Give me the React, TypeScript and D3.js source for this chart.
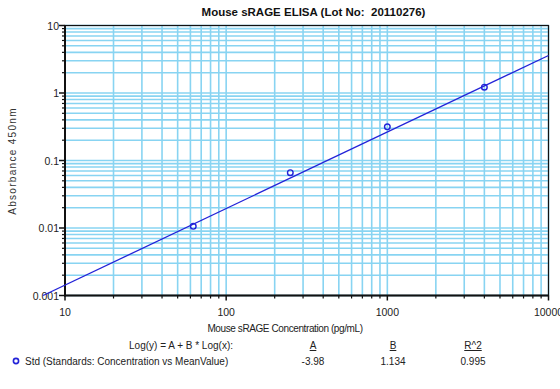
import React from "react";
import * as d3 from "d3";

const titleText = "Mouse sRAGE ELISA (Lot No:  20110276)";
const xTitle = "Mouse sRAGE Concentration (pg/mL)";
const yTitle = "Absorbance 450nm";
const xTickValues = [10, 100, 1000, 10000];
const xTickLabels = ["10", "100", "1000", "10000"];
const yTickValues = [0.001, 0.01, 0.1, 1, 10];
const yTickLabels = ["0.001", "0.01", "0.1", "1", "10"];
const concentrations = [62.5, 250, 1000, 4000];
const meanValues = [0.0106, 0.066, 0.315, 1.22];
const fitA = -3.98;
const fitB = 1.134;
const legendHeaders = ["A", "B", "R^2"];
const legendValues = ["-3.98", "1.134", "0.995"];
const seriesLabel = "Std (Standards: Concentration vs MeanValue)";
const equationLabel = "Log(y) = A + B * Log(x):";

const W = 560;
const H = 389;
const L = 65, R = 548.5, T = 25.5, B = 295.5;
const FONT = "'Liberation Sans', Arial, sans-serif";
const GRID = "#88d4f2";
const BLUE = "#2323d8";

export default function App() {
  const x = d3.scaleLog().domain([10, 10000]).range([L, R]);
  const y = d3.scaleLog().domain([0.001, 10]).range([B, T]);

  const xMinor: number[] = [];
  for (let d = 10; d < 10000; d *= 10) for (let k = 1; k <= 9; k++) xMinor.push(d * k);
  xMinor.push(10000);
  const yMinor: number[] = [];
  for (let d = 0.001; d < 9; d *= 10) for (let k = 1; k <= 9; k++) yMinor.push(d * k);
  yMinor.push(10);

  // fit line endpoints: from where fit reaches y=0.001 to x=10000
  const xStart = Math.pow(10, (Math.log10(0.001) - fitA) / fitB);
  const fitPts: [number, number][] = [xStart, 10000].map((c) => [c, Math.pow(10, fitA + fitB * Math.log10(c))]);
  const line = d3.line<[number, number]>().x((d) => x(d[0])).y((d) => y(d[1]));

  const colX = [313, 393, 473];

  return (
    <svg width={W} height={H} style={{ position: "absolute", left: 0, top: 0, background: "#fff" }} fontFamily={FONT}>
      <rect width={W} height={H} fill="#fff" />
      <text x={313.5} y={16} textAnchor="middle" fontSize={11.5} fontWeight="bold" fill="#111" style={{ whiteSpace: "pre" }}>{titleText}</text>
      {/* grid */}
      {xMinor.map((v, i) => (
        <line key={"gx" + i} x1={x(v)} x2={x(v)} y1={T} y2={B} stroke={GRID} strokeWidth={1.6} />
      ))}
      {yMinor.map((v, i) => (
        <line key={"gy" + i} x1={L} x2={R} y1={y(v)} y2={y(v)} stroke={GRID} strokeWidth={1.6} />
      ))}
      {/* frame */}
      <rect x={L} y={T} width={R - L} height={B - T} fill="none" stroke="#111" strokeWidth={1.2} />
      <line x1={L} x2={L} y1={T - 0.5} y2={B + 1} stroke="#111" strokeWidth={2} />
      <line x1={L - 1} x2={R + 0.5} y1={B} y2={B} stroke="#111" strokeWidth={2} />
      {/* x ticks */}
      {xMinor.map((v, i) => {
        const major = xTickValues.includes(Math.round(v));
        return <line key={"tx" + i} x1={x(v)} x2={x(v)} y1={B} y2={B + (major ? 5 : 3)} stroke="#111" strokeWidth={major ? 1.5 : 1.2} />;
      })}
      {xTickValues.map((v, i) => (
        <text key={"lx" + i} x={x(v)} y={316} textAnchor="middle" fontSize={10.5} fill="#222">{xTickLabels[i]}</text>
      ))}
      {/* y ticks */}
      {yMinor.map((v, i) => {
        const major = yTickValues.some((t) => Math.abs(t - v) / t < 1e-6);
        return <line key={"ty" + i} x1={L - (major ? 6 : 3)} x2={L} y1={y(v)} y2={y(v)} stroke="#111" strokeWidth={major ? 1.5 : 1.2} />;
      })}
      {yTickValues.map((v, i) => (
        <text key={"ly" + i} x={59} y={y(v) + 4} textAnchor="end" fontSize={10.5} fill="#222">{yTickLabels[i]}</text>
      ))}
      {/* fit line */}
      <path d={line(fitPts) || ""} fill="none" stroke={BLUE} strokeWidth={1.3} />
      {/* points */}
      {concentrations.map((c, i) => (
        <circle key={"p" + i} cx={x(c)} cy={y(meanValues[i])} r={2.8} fill="none" stroke={BLUE} strokeWidth={1.4} />
      ))}
      {/* axis titles */}
      <text x={285} y={332} textAnchor="middle" fontSize={10} letterSpacing={-0.4} fill="#222">{xTitle}</text>
      <text transform={`translate(16,161) rotate(-90)`} textAnchor="middle" fontSize={10} letterSpacing={1.3} fill="#333">{yTitle}</text>
      {/* legend */}
      <text x={233} y={349} textAnchor="end" fontSize={10} fill="#222">{equationLabel}</text>
      {legendHeaders.map((h, i) => (
        <text key={"lh" + i} x={colX[i]} y={349} textAnchor="middle" fontSize={10} fill="#222" textDecoration="underline">{h}</text>
      ))}
      <circle cx={16} cy={361} r={2.6} fill="none" stroke={BLUE} strokeWidth={1.6} />
      <text x={25} y={365} fontSize={10} fill="#222">{seriesLabel}</text>
      {legendValues.map((v, i) => (
        <text key={"lv" + i} x={colX[i]} y={365} textAnchor="middle" fontSize={10} fill="#222">{v}</text>
      ))}
    </svg>
  );
}
